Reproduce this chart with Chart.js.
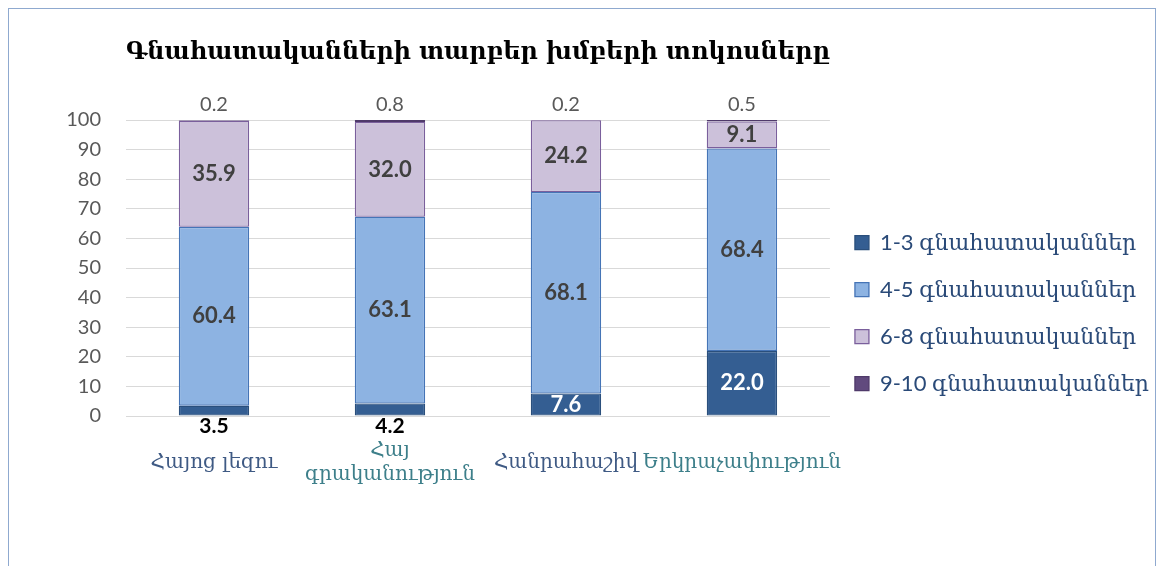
<!DOCTYPE html>
<html><head><meta charset="utf-8">
<script src="https://cdn.jsdelivr.net/npm/chart.js@4.4.0/dist/chart.umd.min.js"></script>
<style>
html,body{margin:0;padding:0;background:#fff;overflow:hidden;}
#wrap{position:relative;width:1159px;height:566px;}
#frame{position:absolute;left:8px;top:8px;width:1148px;height:600px;border:1.5px solid #8fa9cf;box-sizing:border-box;pointer-events:none;}
canvas{position:absolute;left:0;top:0;}
</style></head>
<body>
<div id="wrap"><canvas id="c" width="1159" height="566"></canvas><div id="frame"></div></div>
<script>
const categories = ['Հայոց լեզու', ['Հայ', 'գրականություն'], 'Հանրահաշիվ', 'Երկրաչափություն'];
const seriesNames = ['1-3 գնահատականներ', '4-5 գնահատականներ', '6-8 գնահատականներ', '9-10 գնահատականներ'];
const grades13 = [3.5, 4.2, 7.6, 22.0];
const grades45 = [60.4, 63.1, 68.1, 68.4];
const grades68 = [35.9, 32.0, 24.2, 9.1];
const grades910 = [0.2, 0.8, 0.2, 0.5];
const titleText = 'Գնահատականների տարբեր խմբերի տոկոսները';

const fills = ['#345e92', '#8db3e2', '#ccc1da', '#614a7e'];
const borders = ['#2a4f7c', '#4574b6', '#7a5f9c', '#4f3a6a'];
const tickColors = ['#3f5a84', '#3d7f8a', '#3f5a84', '#3d7f8a'];
const armFont = "Lato, 'DejaVu Serif', serif";

const valueLabels = {
  id: 'valueLabels',
  afterDatasetsDraw(chart) {
    const ctx = chart.ctx;
    ctx.save();
    ctx.textAlign = 'center';
    ctx.textBaseline = 'middle';
    chart.data.datasets.forEach((ds, di) => {
      const meta = chart.getDatasetMeta(di);
      meta.data.forEach((bar, i) => {
        const v = ds.data[i];
        const t = v.toFixed(1);
        const p = bar.getProps(['x', 'y', 'base'], true);
        const h = Math.abs(p.base - p.y);
        if (di === 0) {
          if (h < 20) { ctx.font = 'bold 21px Lato, sans-serif'; ctx.fillStyle = '#000000'; ctx.fillText(t, p.x, p.base + 11); }
          else { ctx.font = 'bold 22px Lato, sans-serif'; ctx.fillStyle = '#ffffff'; ctx.fillText(t, p.x, (p.y + p.base) / 2); }
        } else if (di === 3) {
          ctx.font = '20px Lato, sans-serif';
          ctx.fillStyle = '#595959';
          ctx.fillText(t, p.x, p.y - 15);
        } else {
          ctx.font = 'bold 22px Lato, sans-serif';
          ctx.fillStyle = '#404040';
          ctx.fillText(t, p.x, (p.y + p.base) / 2);
        }
      });
    });
    ctx.restore();
  }
};

const seriesValues = [grades13, grades45, grades68, grades910];
new Chart(document.getElementById('c'), {
  type: 'bar',
  data: {
    labels: categories,
    datasets: seriesValues.map((vals, k) => ({
      label: seriesNames[k],
      data: vals,
      backgroundColor: fills[k],
      borderColor: borders[k],
      borderWidth: 1.3,
      borderSkipped: false,
      barPercentage: 0.8,
      categoryPercentage: 0.5
    }))
  },
  plugins: [valueLabels],
  options: {
    responsive: false,
    animation: false,
    layout: { padding: { left: 0, right: 0, top: 0, bottom: 0 } },
    plugins: {
      title: {
        display: true, text: titleText, fullSize: false, align: 'start',
        color: '#000', font: { family: "'DejaVu Serif', serif", size: 25, weight: 'bold' },
        padding: { top: 37, bottom: 53 }
      },
      legend: {
        position: 'right', align: 'center', maxWidth: 420,
        title: { display: true, text: ' ', font: { size: 12 }, padding: { top: 46, bottom: 0 } },
        labels: {
          boxWidth: 14, boxHeight: 14, padding: 25, color: '#2a4a78',
          font: { family: armFont, size: 22 }
        }
      },
      tooltip: { enabled: false }
    },
    scales: {
      x: {
        stacked: true,
        grid: { display: false },
        border: { color: '#d9d9d9' },
        ticks: { color: (c) => tickColors[c.index], font: { family: "'DejaVu Serif', serif", size: 20 }, padding: 27, maxRotation: 0, autoSkip: false, crossAlign: 'center' },
        afterFit: (s) => { s.height = 150; }
      },
      y: {
        stacked: true, min: 0, max: 100,
        grid: { color: '#d9d9d9', drawTicks: false },
        border: { display: false },
        ticks: { stepSize: 10, color: '#595959', font: { family: 'Lato, sans-serif', size: 20 }, padding: 25 },
        afterFit: (s) => { s.width = 126; }
      }
    }
  }
});
</script>
</body></html>
